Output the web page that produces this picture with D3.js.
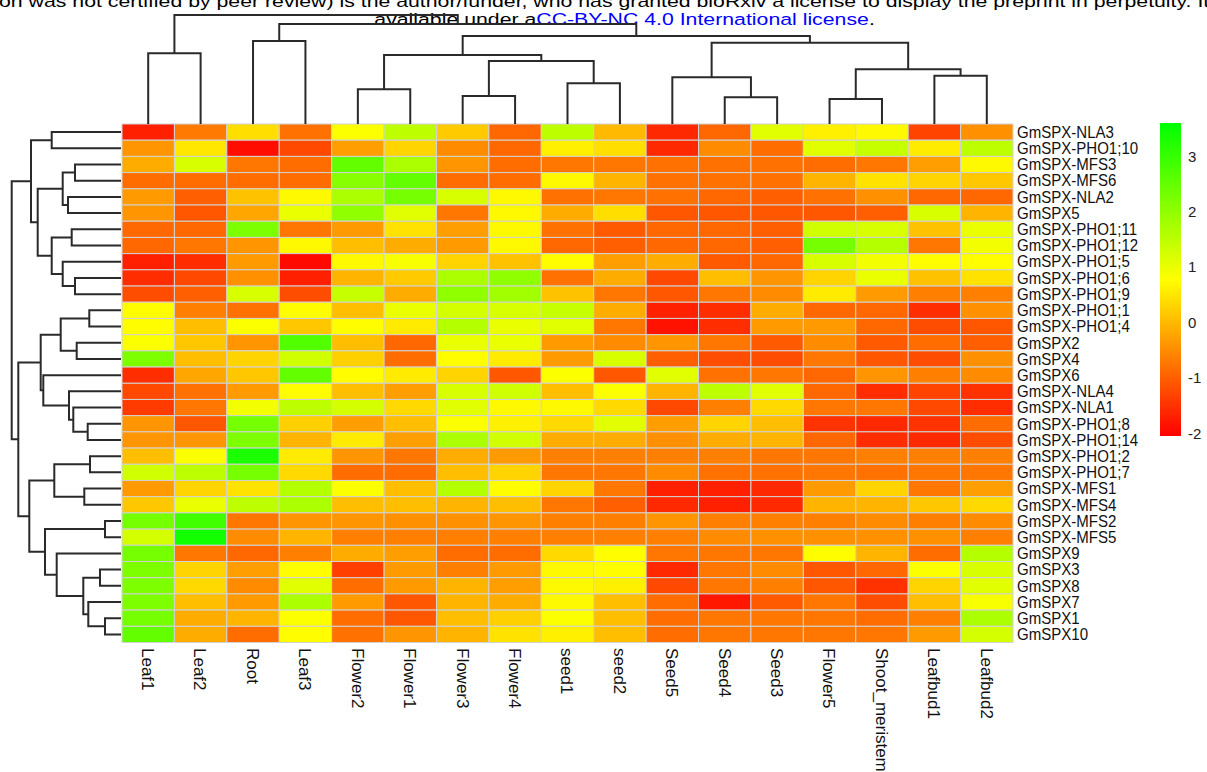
<!DOCTYPE html>
<html>
<head>
<meta charset="utf-8">
<script src="https://cdn.jsdelivr.net/npm/d3@7"></script>
<style>
  body { margin: 0; background: #fff; }
  svg { display: block; font-family: "Liberation Sans", Arial, sans-serif; }
</style>
</head>
<body>
<div id="chart"></div>
<script>
const width = 1207, height = 772;

const samples = ["Leaf1", "Leaf2", "Root", "Leaf3", "Flower2", "Flower1", "Flower3", "Flower4",
  "seed1", "seed2", "Seed5", "Seed4", "Seed3", "Flower5", "Shoot_meristem", "Leafbud1", "Leafbud2"];

const genes = ["GmSPX-NLA3", "GmSPX-PHO1;10", "GmSPX-MFS3", "GmSPX-MFS6", "GmSPX-NLA2", "GmSPX5",
  "GmSPX-PHO1;11", "GmSPX-PHO1;12", "GmSPX-PHO1;5", "GmSPX-PHO1;6", "GmSPX-PHO1;9", "GmSPX-PHO1;1",
  "GmSPX-PHO1;4", "GmSPX2", "GmSPX4", "GmSPX6", "GmSPX-NLA4", "GmSPX-NLA1", "GmSPX-PHO1;8",
  "GmSPX-PHO1;14", "GmSPX-PHO1;2", "GmSPX-PHO1;7", "GmSPX-MFS1", "GmSPX-MFS4", "GmSPX-MFS2",
  "GmSPX-MFS5", "GmSPX9", "GmSPX3", "GmSPX8", "GmSPX7", "GmSPX1", "GmSPX10"];

// z-scored expression, one row per gene, columns in the order of `samples`
const values = [
  [-1.7, -0.7, 0.4, -0.8, 0.8, 1.5, 0.2, -0.9, 1.5, 0.0, -1.6, -0.9, 1.1, 0.6, 0.7, -1.3, -0.45],
  [-0.4, 0.5, -1.9, -1.25, -0.3, 0.3, -0.5, -0.9, 0.6, 0.4, -1.6, -0.5, -0.85, 1.1, 1.4, 0.55, 1.5],
  [-0.15, 1.2, -0.75, -0.85, 2.5, 1.7, -0.4, -0.85, -0.75, -0.75, -0.8, -0.8, -0.8, -0.85, -0.75, -0.3, 0.7],
  [-0.85, -0.85, -0.85, -0.85, 2.1, 2.5, -0.85, -0.85, 0.7, -0.05, -0.8, -0.8, -0.8, -0.05, 0.45, 0.3, 0.15],
  [-0.35, -1.0, 0.1, 0.7, 1.7, 2.3, 1.2, 0.7, -0.8, -0.75, -0.8, -0.9, -1.0, -0.8, -0.45, -0.9, -0.9],
  [-0.4, -1.1, -0.2, 1.0, 2.0, 1.1, -0.75, 0.7, -0.15, 0.4, -1.1, -1.1, -1.1, -1.1, -1.0, 1.2, -0.05],
  [-0.9, -0.9, 2.2, -0.75, -0.35, 0.45, -0.3, 0.7, -0.8, -1.05, -0.9, -0.9, -1.0, 1.3, 1.2, 0.1, 1.0],
  [-0.9, -0.75, -0.4, 0.7, 0.05, -0.15, -0.35, 0.7, -0.9, -1.0, -0.9, -0.9, -1.0, 2.3, 1.6, -0.75, 0.9],
  [-1.7, -1.55, -0.35, -1.95, 0.7, 0.85, 0.3, 0.1, 0.75, -0.3, -0.15, -1.05, -0.9, 1.2, 0.9, 0.75, 0.75],
  [-1.55, -1.25, -0.45, -1.7, -0.05, 0.2, 1.7, 2.0, -0.8, -0.15, -1.25, 0.05, -0.4, 0.3, 1.0, 0.1, 0.45],
  [-1.2, -1.0, 1.2, -1.2, 1.4, -0.15, 2.0, 1.8, 0.1, -0.75, -1.1, -0.75, -0.5, 0.55, -0.35, -0.65, -0.65],
  [0.75, -0.65, -0.8, 0.75, 0.05, 1.0, 1.25, 1.2, 1.4, -0.15, -1.7, -1.55, -0.15, -0.9, -0.9, -1.55, -0.45],
  [0.75, 0.05, 0.8, 0.15, 0.75, 0.55, 1.6, 1.0, 1.1, -0.75, -1.85, -1.55, -0.35, -0.35, -0.9, -1.2, -1.1],
  [0.8, 0.15, -0.4, 2.7, 0.05, -0.9, 1.0, 1.0, -0.35, -0.5, -0.4, -0.75, -1.05, -0.5, -1.05, -0.85, -1.0],
  [2.2, 0.05, 0.3, 1.3, 0.25, -0.85, 0.75, 0.55, -0.35, 1.2, -1.0, -1.2, -1.2, -0.75, -1.1, -1.2, -0.45],
  [-1.55, -0.2, 0.15, 2.5, 0.75, 0.55, 0.3, -1.1, 0.8, -1.1, 1.1, -0.8, -0.75, -0.9, -0.4, -0.65, -0.5],
  [-1.25, -0.8, -0.35, 0.75, 0.05, -0.3, 1.2, 1.3, 0.05, 0.8, -0.05, 1.5, 1.1, -0.9, -1.55, -1.3, -1.5],
  [-1.4, -0.75, 0.9, 1.5, 1.25, 0.35, 1.1, 0.7, 0.7, 0.35, -1.25, -0.65, 0.35, -0.75, -0.75, -1.25, -1.55],
  [-0.4, -1.1, 2.3, 0.25, -0.3, 0.05, 0.8, 0.6, 0.35, 1.1, -0.3, 0.3, 0.05, -1.5, -1.6, -1.5, -0.85],
  [-0.4, -0.4, 2.2, -0.05, 0.55, -0.3, 1.7, 1.3, -0.15, -0.15, -0.45, -0.15, -0.05, -0.9, -1.55, -1.6, -1.2],
  [0.05, 0.8, 3.3, 0.55, -0.4, -0.75, -0.15, -0.35, -0.65, -0.65, -0.65, -0.65, -0.75, -0.75, -0.65, -0.65, -0.65],
  [1.3, 1.5, 2.3, 0.35, -0.85, -0.85, 0.05, 0.3, -0.75, -0.75, -0.5, -0.8, -0.8, -0.75, -0.8, -0.75, -0.75],
  [-0.35, 0.3, 0.45, 1.6, 0.8, 0.05, 1.6, 0.75, 0.3, -0.75, -1.7, -1.7, -1.6, -0.35, 0.3, -0.75, -0.3],
  [0.15, 1.0, 1.5, 1.7, 0.05, 0.05, -0.05, 0.05, -0.75, -1.0, -1.6, -1.7, -1.6, -0.05, -0.05, 0.15, 0.35],
  [2.3, 2.9, -0.75, -0.4, -0.4, -0.45, -0.45, -0.4, -0.65, -0.65, -0.4, -0.65, -0.65, -0.65, -0.5, -0.65, -0.5],
  [1.25, 3.4, -0.5, -0.05, -0.65, -0.65, -0.65, -0.65, -0.65, -0.65, -0.65, -0.5, -0.45, -0.45, -0.45, -0.45, -0.65],
  [2.3, -0.75, -0.9, -0.65, -0.15, -0.3, -0.85, -0.85, 0.35, 0.75, -0.75, -0.75, -0.75, 0.75, -0.05, -0.85, 1.6],
  [2.2, 0.3, -0.3, 0.75, -1.35, -0.35, -0.65, -0.35, 0.7, 0.75, -1.6, -0.75, -0.5, -1.1, -0.9, 0.8, 1.2],
  [2.2, 0.35, -0.5, 1.1, -0.85, -0.35, -0.05, -0.3, 0.7, 0.6, -1.25, -0.75, -0.65, -1.1, -1.5, 0.3, 1.1],
  [2.2, 0.05, -0.35, 1.7, -0.35, -1.1, -0.05, -0.15, 0.7, 0.05, -0.85, -1.8, -1.05, -0.75, -1.2, 0.05, 0.85],
  [2.3, -0.15, -0.05, 0.8, -0.85, -1.1, 0.05, 0.25, 0.8, 0.05, -0.85, -0.75, -0.75, -0.75, -0.85, -0.65, 1.7],
  [2.5, -0.15, -0.85, 0.75, -0.8, -0.4, -0.05, 0.45, 0.6, 0.05, -0.85, -0.75, -0.75, -0.75, -0.75, -0.35, 1.25]
];

// dendrograms: [height, left, right], leaves are indices
const colTree = [109, [70.7, 0, 1],
  [100, [83, 2, 3],
    [88, [69, [34.7, 4, 5], [63, [28, 6, 7], [40.7, 8, 9]]],
      [81.3, [46.7, 10, [26.7, 11, 12]], [54.7, [25, 13, 14], [48.3, 15, 16]]]]]];

const rowTree = [109.3,
  [90, [69.3, 0, 1],
    [83.3, [58.3, [46, 2, 3], [53, 4, 5]],
      [69.3, [49.3, 6, 7], [58.3, 8, [46, 9, 10]]]]],
  [102.7,
    [80.3, [60.3, [31.7, 11, 12], [44.3, 13, 14]],
      [77.7, 15, [52, 16, [47.7, 17, [33.3, 18, 19]]]]],
    [91.7, [66.7, [31, 20, 21], [36.7, 22, 23]],
      [76, [16, 24, 25], [64.3, 26, [37.7, [21, 27, 28], [32.7, 29, [16, 30, 31]]]]]]]];

const legendTicks = [-2, -1, 0, 1, 2, 3];
const colorDomain = [-2.05, 0.77, 3.6];

const x = d3.scaleBand().domain(d3.range(samples.length)).range([122, 1013]);
const y = d3.scaleBand().domain(d3.range(genes.length)).range([124, 642.5]);
const color = d3.scaleLinear().domain(colorDomain).range(["#ff0000", "#ffff00", "#00ff00"]);
const colH = d3.scaleLinear().domain([0, 109]).range([124, 15]);
const rowH = d3.scaleLinear().domain([0, 109.3]).range([121, 11.7]);

const svg = d3.select("#chart").append("svg").attr("width", width).attr("height", height);

// header text from the preprint page (first line is cut by the top edge, as in the source)
const head2 = svg.append("text").attr("font-size", 17).attr("fill", "#000");
head2.append("tspan").text("available under a");
head2.append("tspan").attr("fill", "#0000ff").text("CC-BY-NC 4.0 International license");
head2.append("tspan").text(".");
const sx = 500.7 / head2.node().getComputedTextLength();
head2.attr("transform", `translate(374.3,25) scale(${sx},1)`);

svg.append("text").attr("font-size", 17).attr("fill", "#000")
  .attr("transform", `translate(-1,7) scale(${sx},1)`)
  .text("on was not certified by peer review) is the author/funder, who has granted bioRxiv a license to display the preprint in perpetuity. It is made");

// heatmap cells
const cells = [];
values.forEach((row, r) => row.forEach((v, c) => cells.push({r, c, v})));
svg.append("g").selectAll("rect")
  .data(cells)
  .enter().append("rect")
  .attr("x", d => x(d.c)).attr("y", d => y(d.r))
  .attr("width", x.bandwidth()).attr("height", y.bandwidth())
  .attr("fill", d => color(d.v))
  .attr("stroke", "#d2d2d2").attr("stroke-width", 1);

// dendrograms
function walk(node, pos, out) {
  if (typeof node === "number") return {p: pos(node), h: 0};
  const a = walk(node[1], pos, out), b = walk(node[2], pos, out);
  out.push({a, b, h: node[0]});
  return {p: (a.p + b.p) / 2, h: node[0]};
}

const colLinks = [];
walk(colTree, i => x(i) + x.bandwidth() / 2, colLinks);
svg.append("g").attr("fill", "none").attr("stroke", "#2a2a2a").attr("stroke-width", 2)
  .selectAll("path").data(colLinks).enter().append("path")
  .attr("d", d => `M${d.a.p},${colH(d.a.h)}V${colH(d.h)}H${d.b.p}V${colH(d.b.h)}`);

const rowLinks = [];
walk(rowTree, i => y(i) + y.bandwidth() / 2, rowLinks);
svg.append("g").attr("fill", "none").attr("stroke", "#2a2a2a").attr("stroke-width", 2)
  .selectAll("path").data(rowLinks).enter().append("path")
  .attr("d", d => `M${rowH(d.a.h)},${d.a.p}H${rowH(d.h)}V${d.b.p}H${rowH(d.b.h)}`);

// row labels
svg.append("g").selectAll("text")
  .data(genes).enter().append("text")
  .attr("transform", (d, i) => `translate(1017,${y(i) + y.bandwidth() / 2}) scale(0.94,1)`)
  .attr("dy", "0.36em").attr("font-size", 16).attr("fill", "#111")
  .text(d => d);

// column labels, rotated
svg.append("g").selectAll("text")
  .data(samples).enter().append("text")
  .attr("transform", (d, i) => `translate(${x(i) + x.bandwidth() / 2},648) rotate(90)`)
  .attr("dy", "0.36em").attr("font-size", 17).attr("fill", "#111")
  .text(d => d);

// colour key
const legY = d3.scaleLinear().domain([colorDomain[0], colorDomain[2]]).range([436, 123]);
const grad = svg.append("defs").append("linearGradient")
  .attr("id", "key").attr("x1", 0).attr("y1", 1).attr("x2", 0).attr("y2", 0);
colorDomain.forEach(v => {
  grad.append("stop")
    .attr("offset", (v - colorDomain[0]) / (colorDomain[2] - colorDomain[0]))
    .attr("stop-color", color(v));
});
svg.append("rect")
  .attr("x", 1160).attr("y", legY(colorDomain[2]))
  .attr("width", 21).attr("height", legY(colorDomain[0]) - legY(colorDomain[2]))
  .attr("fill", "url(#key)");
svg.append("g").selectAll("text")
  .data(legendTicks).enter().append("text")
  .attr("x", 1188).attr("y", d => legY(d)).attr("dy", "0.36em")
  .attr("font-size", 15).attr("fill", "#222")
  .text(d => d);
</script>
</body>
</html>
